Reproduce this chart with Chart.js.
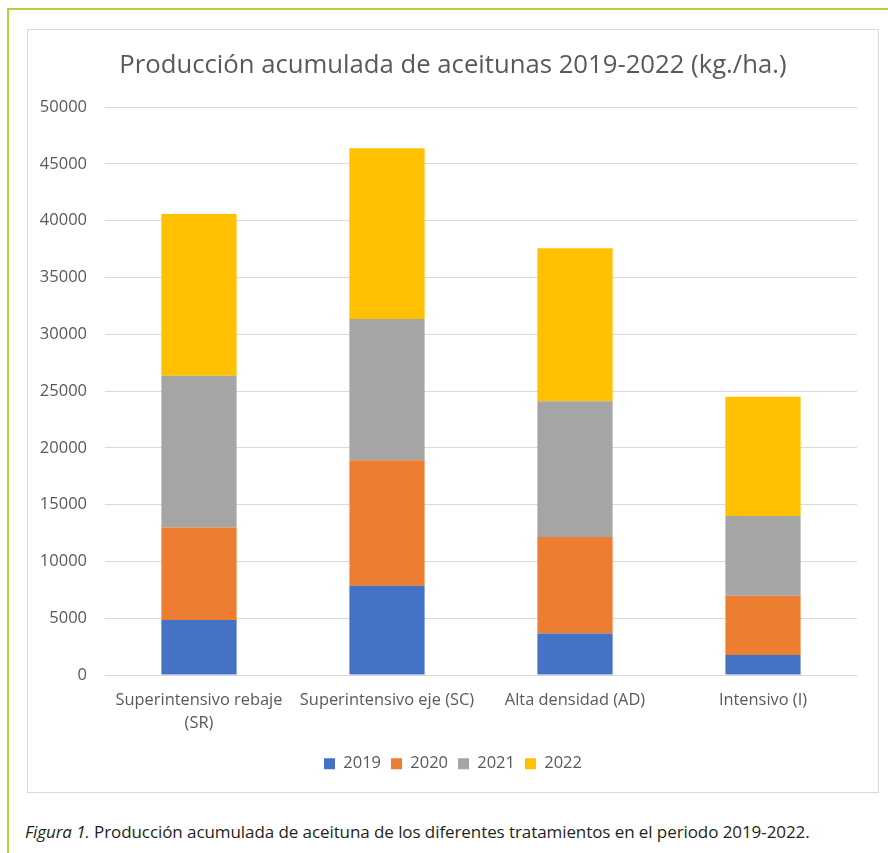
<!DOCTYPE html>
<html>
<head>
<meta charset="utf-8">
<script src="https://cdn.jsdelivr.net/npm/chart.js@4.4.0/dist/chart.umd.min.js"></script>
<style>
  html, body { margin: 0; padding: 0; background: #ffffff; }
  body { width: 888px; height: 853px; position: relative; overflow: hidden; }
  #frame { position: absolute; left: 7px; top: 8px; width: 900px; height: 900px;
           border-left: 2px solid #bccd3a; border-top: 2px solid #bccd3a; }
  #box { position: absolute; left: 27px; top: 29px; width: 850px; height: 762px;
         border: 1px solid #d9d9d9; background: #fff; }
  #box canvas { display: block; }
  #caption { position: absolute; left: 25px; top: 820px; font-family: "Open Sans", sans-serif;
             font-size: 17px; line-height: 23px; color: #231f20; white-space: nowrap; letter-spacing: -0.08px; }
</style>
</head>
<body>
<div id="frame"></div>
<div id="box"><canvas id="c" width="850" height="762"></canvas></div>
<div id="caption"><i>Figura 1.</i> Producción acumulada de aceituna de los diferentes tratamientos en el periodo 2019-2022.</div>
<script>
const categories = [["Superintensivo rebaje", "(SR)"], "Superintensivo eje (SC)", "Alta densidad (AD)", "Intensivo (I)"];
const years = ["2019", "2020", "2021", "2022"];
const v2019 = [4850, 7850, 3650, 1760];
const v2020 = [8140, 11060, 8500, 5210];
const v2021 = [13360, 12430, 11940, 7030];
const v2022 = [14240, 15030, 13470, 10500];
const yTicks = [0, 5000, 10000, 15000, 20000, 25000, 30000, 35000, 40000, 45000, 50000];
const colors = ["#4472C4", "#ED7D31", "#A5A5A5", "#FFC000"];
const series = [v2019, v2020, v2021, v2022];

const textColor = "#595959";
const font = "'Open Sans', sans-serif";

new Chart(document.getElementById("c"), {
  type: "bar",
  data: {
    labels: categories,
    datasets: years.map((y, i) => ({
      label: y,
      data: series[i],
      backgroundColor: colors[i],
      borderWidth: 0,
      categoryPercentage: 1,
      barPercentage: 0.4,
      yAxisID: "y"
    }))
  },
  options: {
    responsive: false,
    animation: false,
    layout: { padding: { left: 0, right: 0, top: 0, bottom: 10 } },
    plugins: {
      title: {
        display: true,
        text: "Producción acumulada de aceitunas 2019-2022 (kg./ha.)",
        color: textColor,
        font: { family: font, size: 25.7, weight: "normal", lineHeight: 1.2 },
        padding: { top: 20.6, bottom: 25.6 }
      },
      legend: {
        position: "bottom",
        labels: {
          color: textColor,
          font: { family: font, size: 16.5 },
          boxWidth: 11,
          boxHeight: 11,
          padding: 10
        }
      },
      tooltip: { enabled: false }
    },
    scales: {
      x: {
        stacked: true,
        grid: { display: false, drawTicks: false },
        border: { display: false },
        ticks: {
          color: textColor,
          font: { family: font, size: 16.4, lineHeight: 1.38 },
          padding: 14.5,
          maxRotation: 0,
          autoSkip: false
        },
        afterFit: (s) => { s.height = 70.5; }
      },
      y: {
        stacked: true,
        min: 0,
        max: 50000,
        afterBuildTicks: (s) => { s.ticks = yTicks.map(v => ({ value: v })); },
        grid: { color: "#d9d9d9", lineWidth: 1, drawTicks: false },
        border: { display: false },
        ticks: {
          color: textColor,
          font: { family: font, size: 16.5 },
          padding: 18,
          callback: (v) => String(v)
        },
        afterFit: (s) => { s.width = 77; }
      },
      yRightSpace: {
        type: "linear",
        position: "right",
        min: 0,
        max: 50000,
        grid: { display: false, drawTicks: false },
        border: { display: false },
        ticks: { display: false },
        afterFit: (s) => { s.width = 21; }
      }
    }
  }
});
</script>
</body>
</html>
